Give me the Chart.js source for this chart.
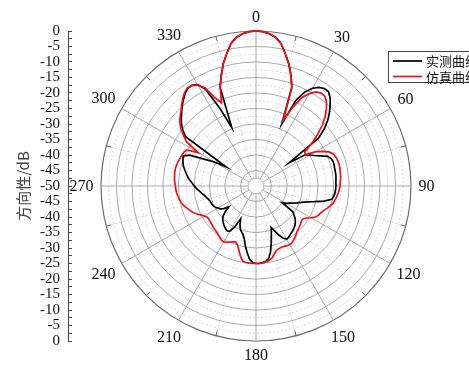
<!DOCTYPE html>
<html><head><meta charset="utf-8">
<script src="https://cdn.jsdelivr.net/npm/chart.js@4.4.0/dist/chart.umd.min.js"></script>
<style>html,body{margin:0;padding:0;background:#fff;}#wrap{width:469px;height:367px;}</style>
</head><body><div id="wrap"><canvas id="c" width="469" height="367"></canvas></div>
<script>
// Angles (degrees, clockwise from top)
const angleLabels = [0,2.5,5,7.5,10,12.5,15,17.5,20,22.5,25,27.5,30,32.5,35,37.5,40,42.5,45,47.5,50,52.5,55,57.5,60,62.5,65,67.5,70,72.5,75,77.5,80,82.5,85,87.5,90,92.5,95,97.5,100,102.5,105,107.5,110,112.5,115,117.5,120,122.5,125,127.5,130,132.5,135,137.5,140,142.5,145,147.5,150,152.5,155,157.5,160,162.5,165,167.5,170,172.5,175,177.5,180,182.5,185,187.5,190,192.5,195,197.5,200,202.5,205,207.5,210,212.5,215,217.5,220,222.5,225,227.5,230,232.5,235,237.5,240,242.5,245,247.5,250,252.5,255,257.5,260,262.5,265,267.5,270,272.5,275,277.5,280,282.5,285,287.5,290,292.5,295,297.5,300,302.5,305,307.5,310,312.5,315,317.5,320,322.5,325,327.5,330,332.5,335,337.5,340,342.5,345,347.5,350,352.5,355,357.5];
const labeledAngles = [0,30,60,90,120,150,180,210,240,270,300,330];
const seriesNames = ['实测曲线','仿真曲线'];
// Measured pattern (dB)
const measured = [
0,-0.15,-0.7,-1.6,-3.4,-6.3,-9.2,-12.5,-16.2,-28.4,
-19.5,-15.8,-13.6,-12.3,-11.6,-11.6,-12.8,-14.6,-16.5,-18.6,
-21.2,-24.5,-37,-31.4,-30,-28.7,-27,-25,-24.2,-23.9,
-23.9,-24,-24,-24,-24.1,-24.2,-24.2,-24.3,-24.4,-24.7,
-25.2,-27.5,-30.5,-33,-34.5,-35.8,-37,-38,-38.8,-40,
-35.5,-34.5,-33.5,-32.8,-32.2,-31.8,-31.4,-31.1,-30.8,-30.4,
-30.2,-31,-32.5,-34.3,-35.7,-33.5,-31,-28.3,-26.3,-25.5,
-25.2,-25,-25,-25.3,-26.3,-28.3,-30.3,-32.5,-33.8,-34.5,
-35.2,-36.5,-38.3,-35,-33.2,-32.8,-33,-33.4,-33.8,-34.3,
-34.8,-35.6,-37,-39,-37.3,-36.3,-35.8,-35.2,-34.8,-34.6,
-34.5,-34.3,-34,-33.5,-33,-32.3,-31.6,-30.8,-30.1,-29.4,
-28.6,-27.8,-27.2,-26.5,-25.8,-25.3,-24.9,-24.6,-26.4,-31.4,
-34.5,-38.5,-22.3,-20.2,-18.6,-17.3,-16.1,-14.8,-13.6,-12.4,
-11.6,-11.5,-12.2,-14.8,-22.2,-29.5,-16.2,-12.7,-9.2,-6.3,
-3.4,-1.6,-0.7,-0.15];
// Simulated pattern (dB)
const simulated = [
0,-0.15,-0.7,-1.6,-3.4,-6.3,-9.2,-12.5,-16.2,-27,
-22,-17.8,-15.6,-14,-13.4,-13.5,-14.6,-16.4,-18.5,-21,
-24,-27.3,-30.8,-31.2,-28,-25.8,-24,-23,-22.6,-22.4,
-22.3,-22.3,-22.4,-22.5,-22.6,-22.8,-22.9,-23.1,-23.4,-23.7,
-24.1,-24.5,-25.2,-26,-26.8,-27.4,-27.8,-28.3,-29.5,-30.8,
-31.5,-31.5,-31.2,-30.9,-30.6,-30.3,-29.8,-29.2,-28.8,-28.3,
-28.2,-28.3,-28.5,-28.6,-28.5,-28.2,-27.2,-26.2,-25.6,-25.3,
-25.1,-25,-25,-25,-25,-25.1,-25.4,-26.8,-28.6,-30.1,
-30.8,-30.5,-30,-29.5,-29.2,-29.3,-29.7,-30.1,-30.4,-30.6,
-30.8,-31,-31.2,-31.3,-31.4,-31.3,-30.7,-29.8,-28.8,-27.9,
-27.2,-26.5,-25.8,-25.3,-24.9,-24.6,-24.3,-24.1,-24,-23.8,
-23.6,-23.5,-23.4,-23.4,-23.5,-23.7,-23.9,-24.1,-24.3,-24.8,
-28.5,-23.5,-21.4,-19.4,-17.9,-16.8,-15.8,-14.5,-13.2,-12.1,
-11.4,-11.6,-12.4,-14.3,-18.5,-21,-16.2,-12.7,-9.2,-6.3,
-3.4,-1.6,-0.7,-0.15];
const radialMin = -50, radialMax = 0, radialStep = 2.5, majorStep = 5;
const axisTitle = '方向性/dB';

const serif = '"Liberation Serif", "DejaVu Serif", serif';
const cjk = '"Noto Sans CJK SC", sans-serif';

const alignAxisPlugin = {
  id: 'alignAxis',
  afterLayout(chart) {
    const r = chart.scales.r, y = chart.scales.y;
    y.top = r.yCenter - r.drawingArea;
    y.bottom = r.yCenter + r.drawingArea;
    y.height = y.bottom - y.top;
    y.configure();
  }
};
const centerPlugin = {
  id: 'centerHole',
  beforeDatasetsDraw(chart) {
    const r = chart.scales.r, ctx = chart.ctx;
    const d = r.getDistanceFromCenterForValue(radialMin + radialStep);
    ctx.save();
    ctx.fillStyle = '#fff';
    ctx.beginPath(); ctx.arc(r.xCenter, r.yCenter, d, 0, Math.PI * 2); ctx.fill();
    ctx.strokeStyle = '#b0b0b0'; ctx.lineWidth = 0.8; ctx.stroke();
    // short marks on the outer ring at the 15° positions
    ctx.strokeStyle = '#666'; ctx.lineWidth = 1;
    angleLabels.forEach((a, i) => {
      if (a % 15 !== 0 || a % 30 === 0) return;
      const p1 = r.getPointPosition(i, r.drawingArea);
      const p2 = r.getPointPosition(i, r.drawingArea - 5);
      ctx.beginPath(); ctx.moveTo(p1.x, p1.y); ctx.lineTo(p2.x, p2.y); ctx.stroke();
    });
    ctx.restore();
  }
};
const angleLabelPlugin = {
  id: 'angleLabels',
  afterDraw(chart) {
    const r = chart.scales.r, ctx = chart.ctx;
    ctx.save();
    ctx.font = '16px ' + serif;
    ctx.fillStyle = '#111';
    ctx.textAlign = 'center';
    ctx.textBaseline = 'middle';
    angleLabels.forEach((a, i) => {
      if (!labeledAngles.includes(a)) return;
      const txt = String(a);
      const w = ctx.measureText(txt).width;
      const rad = a * Math.PI / 180;
      const d = 7.5 + Math.abs(Math.sin(rad)) * w / 2 + Math.abs(Math.cos(rad)) * 6.5;
      const p = r.getPointPosition(i, r.drawingArea + d);
      ctx.fillText(txt, p.x, p.y + 0.5);
    });
    ctx.restore();
  }
};
const legendPlugin = {
  id: 'boxLegend',
  afterDraw(chart) {
    const ctx = chart.ctx;
    ctx.save();
    ctx.fillStyle = '#fff';
    ctx.fillRect(388.5, 51.5, 100, 31);
    ctx.strokeStyle = '#444'; ctx.lineWidth = 1;
    ctx.strokeRect(388.5, 51.5, 100, 31);
    chart.data.datasets.forEach((ds, i) => {
      const y = 61 + i * 15.5;
      ctx.strokeStyle = ds.borderColor; ctx.lineWidth = 1.7;
      ctx.beginPath(); ctx.moveTo(393, y); ctx.lineTo(422, y); ctx.stroke();
      ctx.fillStyle = '#111'; ctx.font = '13px ' + cjk; ctx.textBaseline = 'middle'; ctx.textAlign = 'left';
      ctx.fillText(ds.label, 426, y + 0.5);
    });
    ctx.restore();
  }
};

new Chart(document.getElementById('c'), {
  type: 'radar',
  data: {
    labels: angleLabels,
    datasets: [
      { label: seriesNames[0], data: measured, borderColor: '#000000', borderWidth: 1.7, pointRadius: 0, fill: false, tension: 0, order: 1 },
      { label: seriesNames[1], data: simulated, borderColor: '#e8141c', borderWidth: 1.7, pointRadius: 0, fill: false, tension: 0, order: 0 }
    ]
  },
  options: {
    responsive: false,
    animation: false,
    devicePixelRatio: 1,
    layout: { padding: { top: 31, bottom: 26, left: 0, right: 24 } },
    plugins: { legend: { display: false }, tooltip: { enabled: false } },
    scales: {
      r: {
        min: radialMin, max: radialMax,
        ticks: { display: false, stepSize: radialStep },
        grid: {
          circular: true,
          color: c => c.tick.value === radialMax ? '#6e6e6e' : (c.tick.value % majorStep === 0 ? '#a0a0a0' : '#d2d2d2'),
          lineWidth: c => c.tick.value === radialMax ? 1.2 : 0.9
        },
        border: { dash: c => (c.tick && c.tick.value % majorStep !== 0) ? [2, 2] : [] },
        angleLines: {
          color: c => angleLabels[c.index] % 30 === 0 ? '#a0a0a0' : '#d2d2d2',
          lineWidth: c => angleLabels[c.index] % 15 === 0 ? 0.9 : 0,
          borderDash: c => angleLabels[c.index] % 30 === 0 ? [] : [2, 2]
        },
        pointLabels: { display: false }
      },
      y: {
        type: 'linear',
        position: 'left',
        min: -50, max: 50,
        afterFit: s => { s.width = 68; },
        ticks: {
          stepSize: 2.5, autoSkip: false, padding: 12, color: '#111',
          font: { family: serif, size: 15 },
          callback: v => (Math.abs(v) % majorStep === 0) ? String(Math.abs(v) - 50) : ''
        },
        grid: { drawOnChartArea: false, drawTicks: true, tickLength: -4, color: '#444', tickColor: '#444', lineWidth: 1 },
        border: { display: true, color: '#444', width: 1 },
        title: { display: true, text: axisTitle, color: '#444', font: { family: cjk, size: 15 }, padding: { top: 14, bottom: 0 } }
      }
    }
  },
  plugins: [alignAxisPlugin, centerPlugin, angleLabelPlugin, legendPlugin]
});
</script>
</body></html>
